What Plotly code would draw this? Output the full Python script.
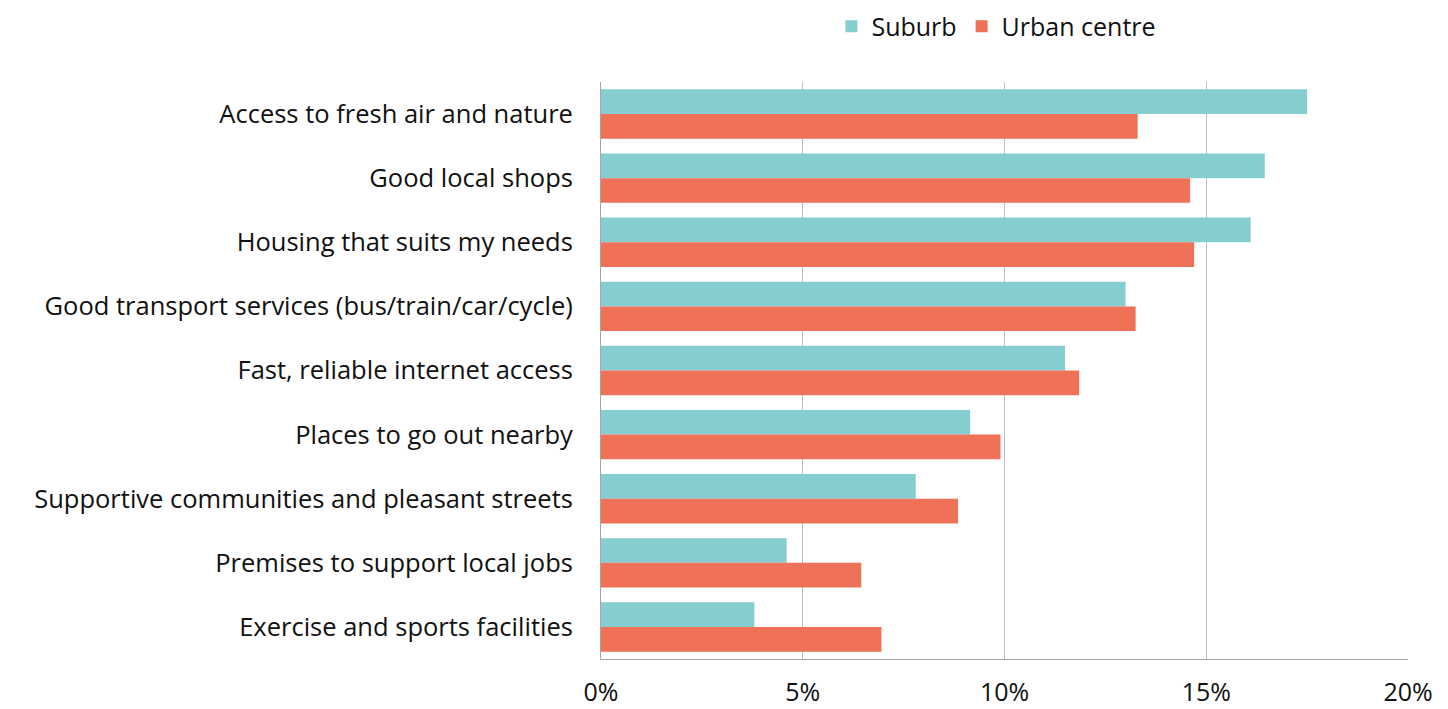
import plotly.graph_objects as go

categories = [
    "Access to fresh air and nature",
    "Good local shops",
    "Housing that suits my needs",
    "Good transport services (bus/train/car/cycle)",
    "Fast, reliable internet access",
    "Places to go out nearby",
    "Supportive communities and pleasant streets",
    "Premises to support local jobs",
    "Exercise and sports facilities",
]
suburb = [17.5, 16.45, 16.1, 13.0, 11.5, 9.15, 7.8, 4.6, 3.8]
urban = [13.3, 14.6, 14.7, 13.25, 11.85, 9.9, 8.85, 6.45, 6.95]
x_ticks = [0, 5, 10, 15, 20]
x_tick_labels = ["0%", "5%", "10%", "15%", "20%"]

FONT = "Open Sans"
fig = go.Figure()
fig.add_trace(go.Bar(y=categories, x=suburb, name="Suburb", orientation="h",
                     marker=dict(color="#86CDD0", line=dict(width=0))))
fig.add_trace(go.Bar(y=categories, x=urban, name="Urban centre", orientation="h",
                     marker=dict(color="#EF7158", line=dict(width=0))))

fig.update_layout(
    width=1448, height=709,
    margin=dict(l=601, r=40, t=82, b=50, autoexpand=False),
    paper_bgcolor="white", plot_bgcolor="white",
    barmode="group", bargap=0.23, bargroupgap=0,
    font=dict(family=FONT, size=25, color="#111111"),
    legend=dict(orientation="h", x=0.49, xanchor="center", y=0.995, yanchor="top",
                yref="container", font=dict(size=25), traceorder="normal"),
    showlegend=True,
)
fig.update_xaxes(range=[0, 20], tickvals=x_ticks, ticktext=x_tick_labels,
                 showgrid=True, gridcolor="#BFBFBF", gridwidth=1,
                 showline=True, linecolor="#A6A6A6", linewidth=1,
                 zeroline=False, ticks="", ticklabelstandoff=11,
                 tickfont=dict(size=25))
fig.update_yaxes(autorange="reversed", showline=True, linecolor="#A6A6A6", linewidth=1,
                 ticks="", ticklabelstandoff=22, tickfont=dict(size=25.5),
                 showgrid=False)

fig.write_html("out.html", config={"displayModeBar": False},
               post_script="document.body.style.margin='0';document.body.style.overflow='hidden';")
